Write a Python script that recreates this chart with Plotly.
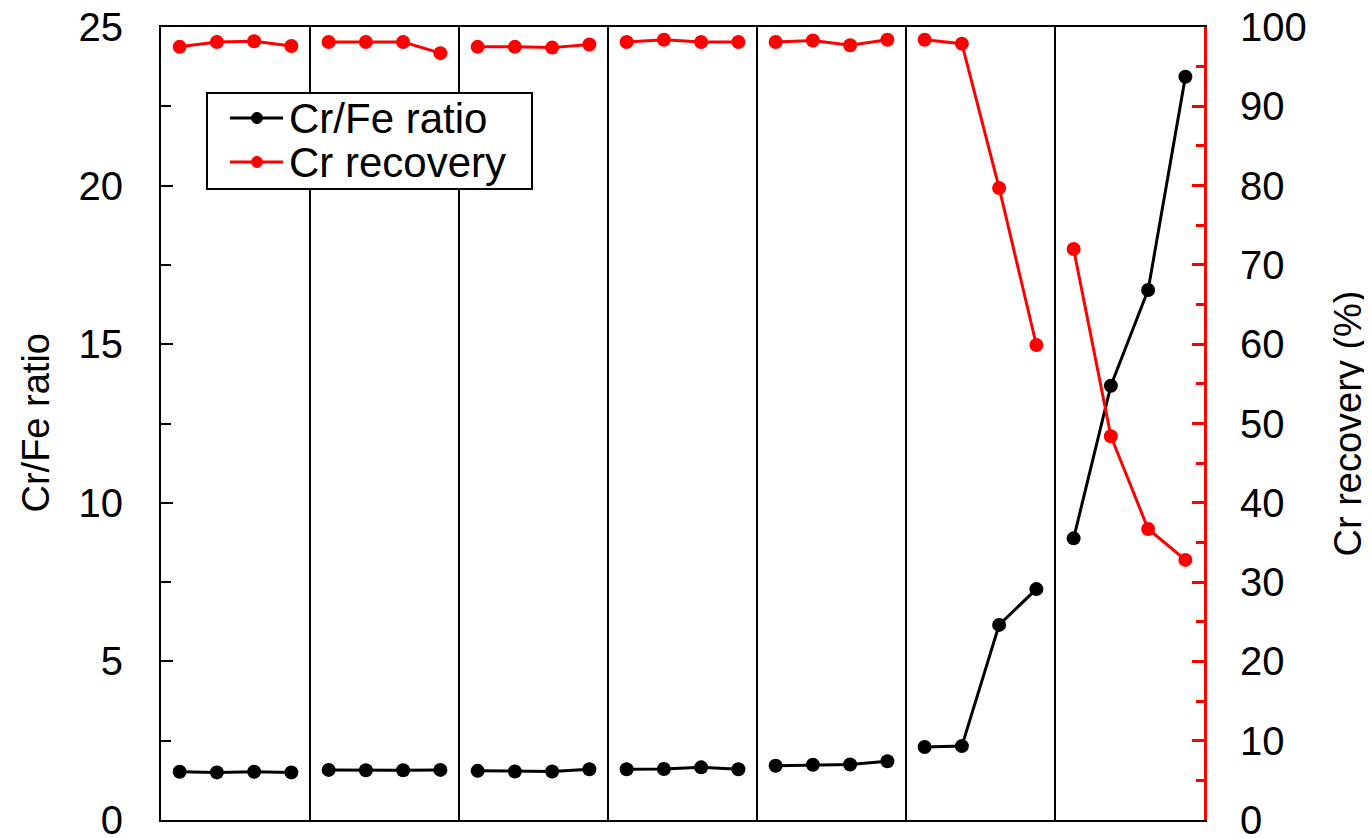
import plotly.graph_objects as go

# ---- data ----
n_groups = 7
per_group = 4
cr_fe_ratio = [1.52, 1.50, 1.52, 1.50,
               1.58, 1.57, 1.57, 1.58,
               1.55, 1.53, 1.53, 1.60,
               1.60, 1.61, 1.66, 1.60,
               1.71, 1.74, 1.75, 1.85,
               2.30, 2.33, 6.15, 7.28,
               8.88, 13.69, 16.71, 23.43]
cr_recovery = [97.5, 98.1, 98.2, 97.6,
               98.1, 98.1, 98.1, 96.7,
               97.5, 97.5, 97.4, 97.8,
               98.1, 98.4, 98.1, 98.1,
               98.1, 98.3, 97.7, 98.4,
               98.4, 97.9, 79.7, 59.9,
               72.0, 48.4, 36.7, 32.8]
series_names = ["Cr/Fe ratio", "Cr recovery"]
series_colors = ["black", "red"]
left_ticks = [0, 5, 10, 15, 20, 25]
right_ticks = [0, 10, 20, 30, 40, 50, 60, 70, 80, 90, 100]


def with_gaps(values):
    """Split series per group so lines do not join across groups."""
    xs, ys = [], []
    for g in range(n_groups):
        for k in range(per_group):
            i = g * per_group + k
            xs.append(i + 0.5)
            ys.append(values[i])
        xs.append(None)
        ys.append(None)
    return xs, ys


FONT = "Liberation Sans, Arial, sans-serif"

# page has an 8px body margin; figure placed accordingly
W, H = 1364, 830
L, T, R, B = 153, 19, 168, 18
PW, PH = W - L - R, H - T - B


def px(xp):   # page x -> paper x
    return (xp - 8 - L) / PW


def py(yp):   # page y -> paper y
    return (H - B - (yp - 8)) / PH


fig = go.Figure()
for vals, name, col, ax in [(cr_fe_ratio, series_names[0], series_colors[0], "y"),
                            (cr_recovery, series_names[1], series_colors[1], "y2")]:
    xs, ys = with_gaps(vals)
    fig.add_trace(go.Scatter(
        x=xs, y=ys, name=name, mode="lines+markers",
        line=dict(color=col, width=3), marker=dict(color=col, size=14),
        connectgaps=False, yaxis=ax, showlegend=False))

shapes = []
for g in range(1, n_groups):
    shapes.append(dict(type="line", xref="x", yref="paper",
                       x0=g * per_group, x1=g * per_group, y0=0, y1=1,
                       line=dict(color="black", width=2)))

# legend box (drawn manually for tight row spacing)
annotations = []
shapes.append(dict(type="rect", xref="paper", yref="paper",
                   x0=px(207), x1=px(532), y0=py(189), y1=py(93),
                   line=dict(color="black", width=2), fillcolor="white",
                   layer="above"))
for k, (name, col) in enumerate(zip(series_names, series_colors)):
    yc = 118 + 44 * k
    shapes.append(dict(type="line", xref="paper", yref="paper",
                       x0=px(230), x1=px(283), y0=py(yc), y1=py(yc),
                       line=dict(color=col, width=3), layer="above"))
    shapes.append(dict(type="circle", xref="paper", yref="paper",
                       x0=px(251.5), x1=px(262.5), y0=py(yc + 5.5),
                       y1=py(yc - 5.5), line=dict(color=col, width=1),
                       fillcolor=col, layer="above"))
    annotations.append(dict(text=name, xref="paper", yref="paper",
                            x=px(287), y=py(yc), xanchor="left",
                            yanchor="middle", showarrow=False,
                            font=dict(size=42, family=FONT)))

annotations += [
    dict(text="Cr/Fe ratio", xref="paper", yref="paper",
         x=px(35), y=0.5, textangle=-90, showarrow=False,
         xanchor="center", yanchor="middle", font=dict(size=38)),
    dict(text="Cr recovery (%)", xref="paper", yref="paper",
         x=px(1347), y=0.5, textangle=-90, showarrow=False,
         xanchor="center", yanchor="middle", font=dict(size=38)),
]

fig.update_layout(
    template="none",
    width=W, height=H,
    margin=dict(l=L, r=R, t=T, b=B, pad=0, autoexpand=False),
    plot_bgcolor="white", paper_bgcolor="white",
    font=dict(family=FONT, size=38, color="black"),
    showlegend=False,
    xaxis=dict(range=[0, n_groups * per_group], showticklabels=False,
               ticks="", showgrid=False, zeroline=False, automargin=False,
               showline=True, linecolor="black", linewidth=2, mirror=True),
    yaxis=dict(range=[0, 25], tickvals=left_ticks, ticks="inside",
               ticklen=12, tickwidth=2, tickcolor="black", automargin=False,
               minor=dict(dtick=2.5, ticks="inside", ticklen=10,
                          tickwidth=2, tickcolor="black", showgrid=False),
               showgrid=False, zeroline=False, showline=True,
               linecolor="black", linewidth=2,
               tickfont=dict(size=40), ticklabelstandoff=28,
               ticklabeloverflow="allow"),
    yaxis2=dict(range=[0, 100], tickvals=right_ticks, overlaying="y",
                side="right", ticks="inside", ticklen=12, tickwidth=3,
                tickcolor="red", automargin=False,
                minor=dict(dtick=5, ticks="inside", ticklen=8,
                           tickwidth=3, tickcolor="red", showgrid=False),
                showgrid=False, zeroline=False, showline=True,
                linecolor="red", linewidth=3,
                tickfont=dict(size=40), ticklabelstandoff=25,
                ticklabeloverflow="allow"),
    shapes=shapes,
    annotations=annotations,
)

fig.write_html("out.html")
